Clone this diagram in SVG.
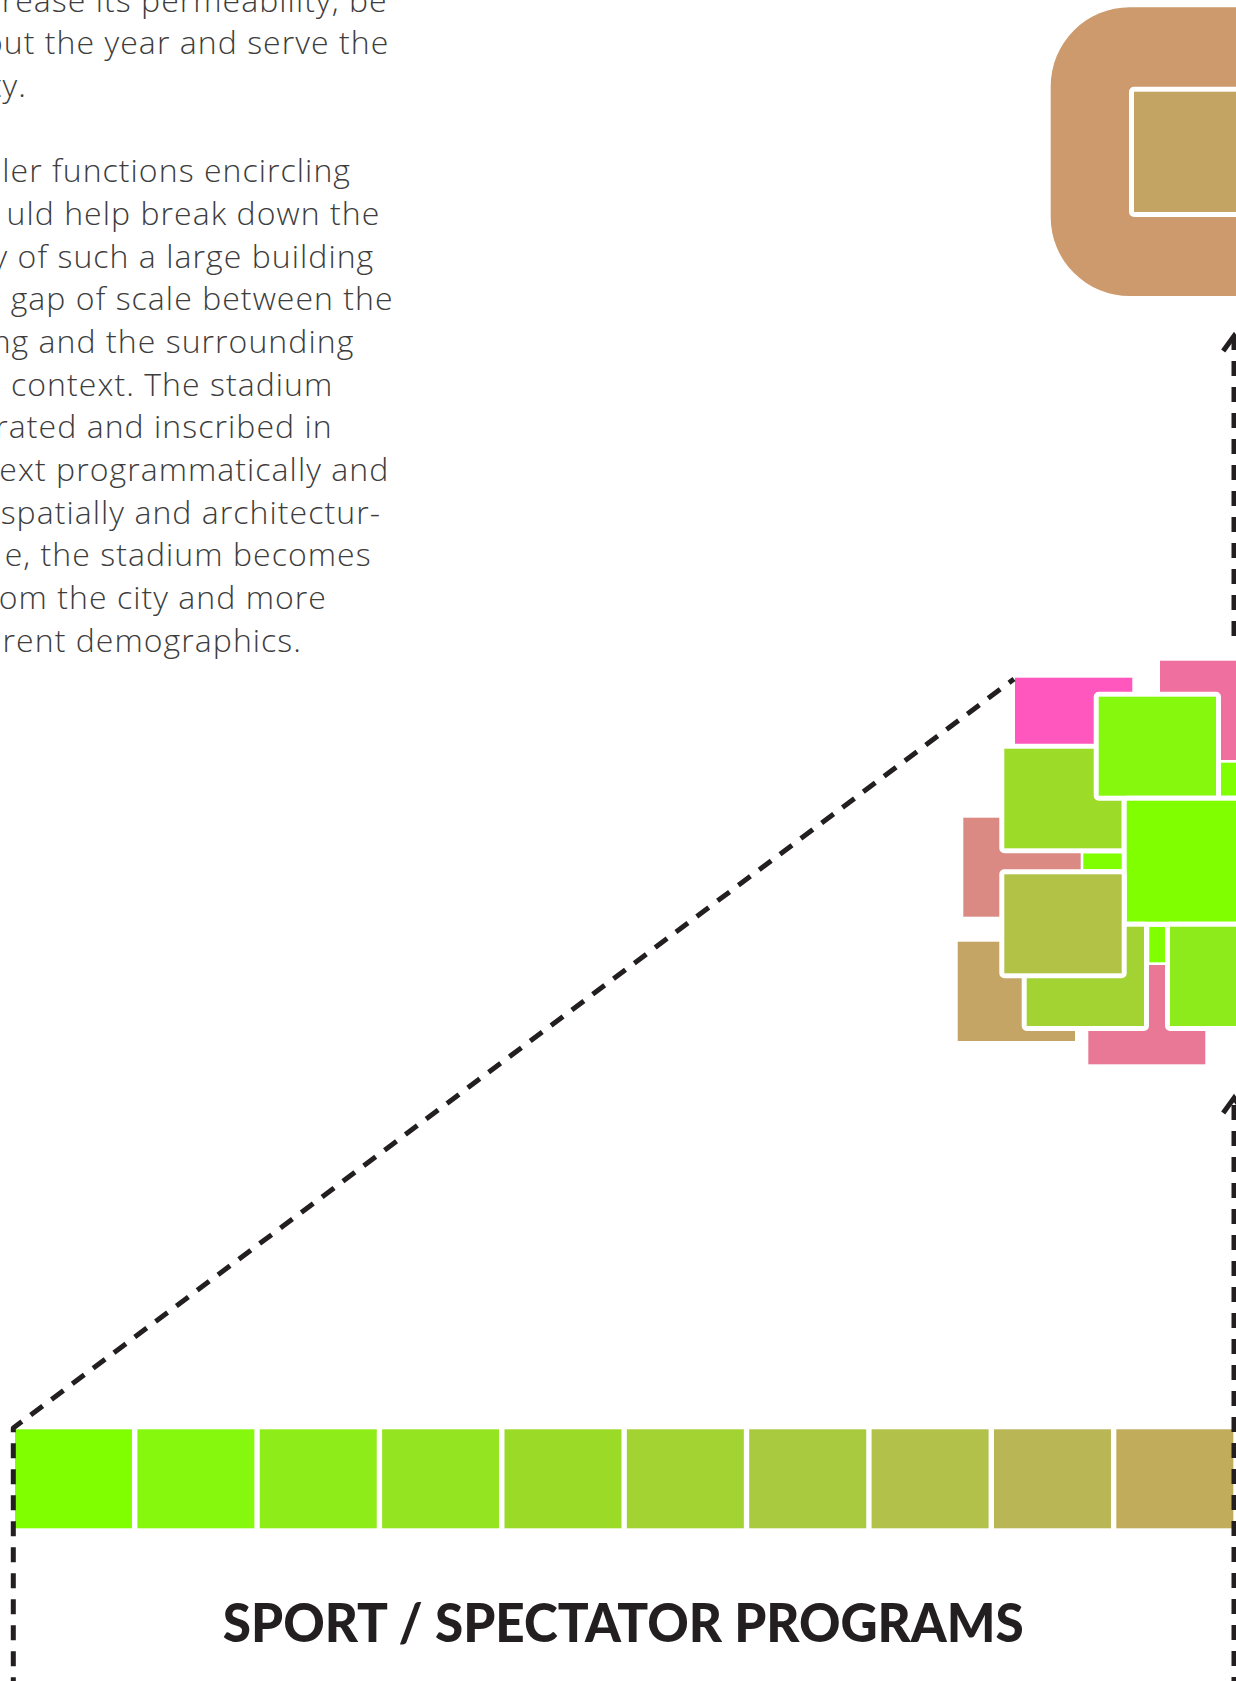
<svg xmlns="http://www.w3.org/2000/svg" width="1236" height="1681" viewBox="0 0 1236 1681">
  <defs>
    <style>
      .body { font-family: "Open Sans", "Liberation Sans", sans-serif; font-weight: 300; font-size: 32px; fill: #3d3d3d; letter-spacing: 1.05px; }
      .title { font-family: "Lato", "Open Sans", "Liberation Sans", sans-serif; font-weight: 900; font-size: 53px; fill: #231f20; }
      .wb { stroke: #ffffff; stroke-width: 10; paint-order: stroke; stroke-linejoin: round; }
      .dash { fill: none; stroke: #231f20; stroke-width: 5; stroke-dasharray: 15 11; stroke-linejoin: round; }
    </style>
    <marker id="chev" markerUnits="userSpaceOnUse" viewBox="-20 -16 26 32" refX="0" refY="0" markerWidth="26" markerHeight="32" orient="auto" overflow="visible">
      <path d="M -15 -10.8 L 0 0 L -15 10.8" fill="none" stroke="#231f20" stroke-width="5" stroke-dasharray="none"/>
    </marker>
  </defs>

  <g id="text-block" class="body" text-anchor="end">
    <text x="387.7" y="11.6">crease its permeability, be</text>
    <text x="389.3" y="54.3">out the year and serve the</text>
    <text x="27" y="97">ty.</text>
    <text x="351" y="182.3">ler functions encircling</text>
    <text x="380.3" y="225">uld help break down the</text>
    <text x="374.3" y="267.7">y of such a large building</text>
    <text x="393.7" y="310.3">gap of scale between the</text>
    <text x="354.3" y="353">ng and the surrounding</text>
    <text x="333.3" y="395.7">e context. The stadium</text>
    <text x="332.7" y="438.3">rated and inscribed in</text>
    <text x="389.3" y="481">ext programmatically and</text>
    <text x="381" y="523.7">spatially and architectur-</text>
    <text x="371.7" y="566.3">e, the stadium becomes</text>
    <text x="327" y="609">om the city and more</text>
    <text x="302" y="651.7">rent demographics.</text>
  </g>

  <g id="node-stadium">
    <rect x="1050.7" y="7.3" width="320" height="288.7" rx="79" ry="79" fill="#cc9a6c"/>
    <rect class="wb" x="1134" y="91.7" width="200" height="120.3" fill="#c4a463"/>
  </g>

  <g id="node-cluster">
    <rect x="1160" y="660.7" width="117.3" height="99.3" fill="#ef6f9f"/>
    <rect x="1015" y="677.7" width="117.3" height="99.3" fill="#ff57be"/>
    <rect x="1220.7" y="762.7" width="30" height="33" fill="#80ff00"/>
    <rect x="963.3" y="817.7" width="117.4" height="99" fill="#da8a82"/>
    <rect x="1083.3" y="853.3" width="40" height="16" fill="#80ff00"/>
    <rect x="957.7" y="941.7" width="117.3" height="99.3" fill="#c4a566"/>
    <rect x="1088.3" y="965" width="117" height="99.3" fill="#e87896"/>
    <rect x="1149.3" y="926.7" width="15.7" height="35.6" fill="#80ff00"/>
    <rect class="wb" x="1004.3" y="748.7" width="117.4" height="99.6" fill="#9cdb28"/>
    <rect class="wb" x="1098.7" y="696.7" width="117.3" height="99" fill="#86f80e"/>
    <rect class="wb" x="1126.7" y="800.7" width="160" height="121" fill="#7fff00"/>
    <rect class="wb" x="1026.7" y="926.7" width="117.3" height="99.3" fill="#a2d332"/>
    <rect class="wb" x="1004.3" y="874.3" width="117.4" height="99" fill="#b2c247"/>
    <rect class="wb" x="1170" y="926.7" width="117.3" height="99.3" fill="#8deb1c"/>
  </g>

  <g id="node-bar">
    <rect x="15" y="1429.3" width="117" height="99" fill="#7fff00"/>
    <rect x="137.37" y="1429.3" width="117" height="99" fill="#86f80d"/>
    <rect x="259.74" y="1429.3" width="117" height="99" fill="#8eed19"/>
    <rect x="382.11" y="1429.3" width="117" height="99" fill="#95e421"/>
    <rect x="504.48" y="1429.3" width="117" height="99" fill="#9cda28"/>
    <rect x="626.85" y="1429.3" width="117" height="99" fill="#a3d233"/>
    <rect x="749.22" y="1429.3" width="117" height="99" fill="#a9c93f"/>
    <rect x="871.59" y="1429.3" width="117" height="99" fill="#b1c149"/>
    <rect x="993.96" y="1429.3" width="117" height="99" fill="#b8b655"/>
    <rect x="1116.33" y="1429.3" width="117" height="99" fill="#c0ac5b"/>
  </g>

  <g id="label">
    <text class="title" x="623.3" y="1642" text-anchor="middle" textLength="801" lengthAdjust="spacingAndGlyphs">SPORT / SPECTATOR PROGRAMS</text>
  </g>

  <g id="connectors">
    <path class="dash" d="M 13.3 1692.3 V 1428 L 1014 679"/>
    <path class="dash" d="M 1234 636 V 336" marker-end="url(#chev)"/>
    <path class="dash" d="M 1234 1692 V 1098" marker-end="url(#chev)"/>
  </g>
</svg>
